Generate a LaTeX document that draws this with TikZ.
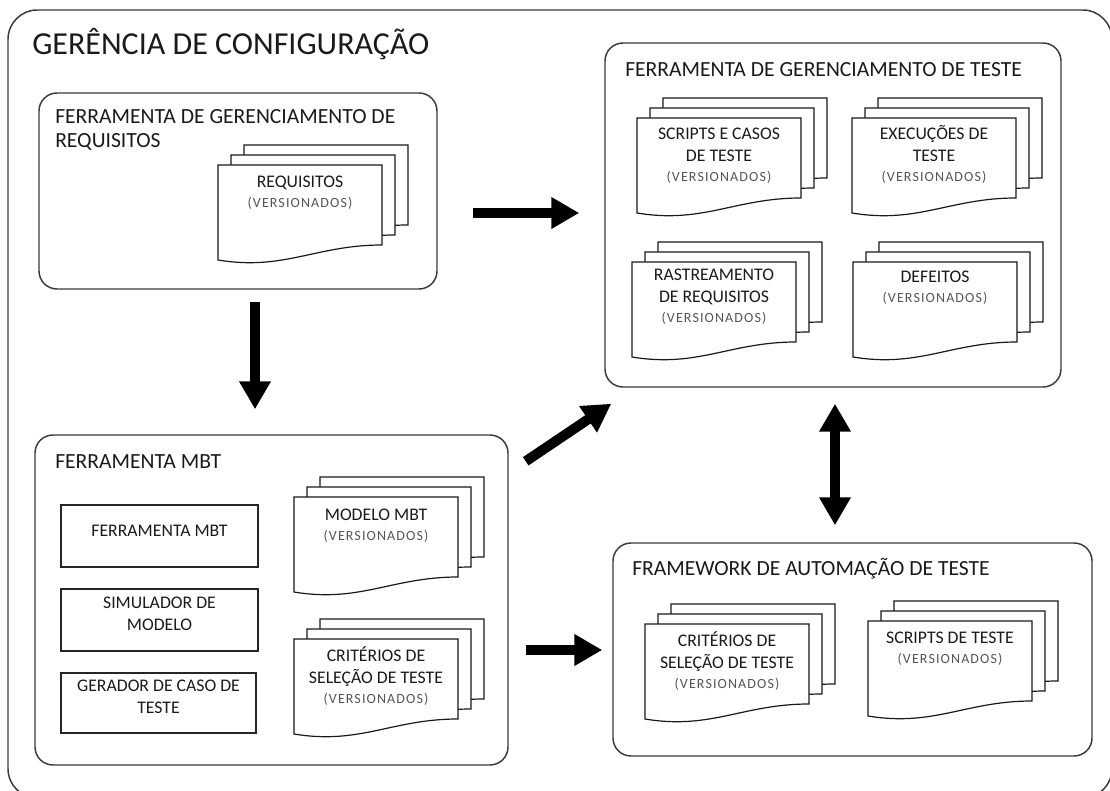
\documentclass[tikz,border=0pt]{standalone}
\usepackage{fontspec}
\setmainfont{Carlito}
\newfontfamily\verfont[LetterSpace=8]{Carlito}
\usetikzlibrary{arrows.meta,calc,fit}

% stack of three pages: name, left, top of the front page, depth of the last line, text
\newcommand{\docstack}[5]{%
\foreach \k in {2,1,0}{
	\pgfmathsetmacro\pgx{#2+13*\k}
	\pgfmathsetmacro\pgy{#3-10*\k}
	\filldraw[page] (\pgx,\pgy) -- ({\pgx+164},\pgy) -- ({\pgx+164},{\pgy+80})
		.. controls ({\pgx+98},{\pgy+80}) and ({\pgx+66},{\pgy+106}) .. (\pgx,{\pgy+95}) -- cycle;
}
\node[doctext] (#1) at ({#2+82},{#3+#4}) {#5};
}
\newcommand{\vers}{\\[-1.5pt]{\verfont\fontsize{10.5}{12}\selectfont\color{vertxt}(VERSIONADOS)}}

\begin{document}
\begin{tikzpicture}[x=0.75pt,y=-0.75pt,
	outerbox/.style={draw=boxline,line width=1.1pt,rounded corners=22pt,inner sep=0pt},
	bigbox/.style={draw=boxline,line width=1.1pt,rounded corners=13.5pt,inner sep=0pt},
	toolbox/.style={draw=black!85,line width=1pt,inner sep=0pt,align=center,
		text=txt,font=\fontsize{13.3}{16.5}\selectfont},
	page/.style={draw=black!90,fill=white,line width=0.9pt},
	doctext/.style={anchor=base,align=center,inner sep=0pt,text=txt,
		font=\fontsize{13.3}{16.5}\selectfont},
	boxtitle/.style={anchor=base west,inner sep=0pt,align=left,text=txt,
		font=\fontsize{16.2}{18}\selectfont},
	bigarrow/.style={-{Triangle[length=21pt,width=22.5pt]},line width=7.5pt},
	twoarrow/.style={{Triangle[length=21pt,width=22.5pt]}-{Triangle[length=21pt,width=22.5pt]},line width=7.5pt}]

\definecolor{boxline}{HTML}{3A3A3A}
\definecolor{txt}{HTML}{1A1A1A}
\definecolor{vertxt}{HTML}{555555}

\useasboundingbox (0,0) rectangle (1110,791);
\clip (0,0) rectangle (1110,791);

\node[outerbox,fit={(8,10) (1112,798)}] (config) {};
\node[anchor=base west,inner sep=0pt,text=txt,font=\fontsize{24}{28}\selectfont]
	(configTitle) at (32,55) {GERÊNCIA DE CONFIGURAÇÃO};

% requisitos
\node[bigbox,fit={(39,93) (437,289)}] (reqTool) {};
\node[boxtitle] (reqTitle) at (55,148) {FERRAMENTA DE GERENCIAMENTO DE\\REQUISITOS};
\docstack{reqDoc}{218}{165}{43}{REQUISITOS\vers}

% gerenciamento de teste
\node[bigbox,fit={(605,43) (1061,387)}] (testTool) {};
\node[boxtitle] (testTitle) at (625,77) {FERRAMENTA DE GERENCIAMENTO DE TESTE};
\docstack{scriptsDoc}{637}{118}{64}{SCRIPTS E CASOS\\DE TESTE\vers}
\docstack{execDoc}{852}{118}{64}{EXECUÇÕES DE\\TESTE\vers}
\docstack{traceDoc}{632}{262}{61}{RASTREAMENTO\\DE REQUISITOS\vers}
\docstack{defectDoc}{853}{262}{41}{DEFEITOS\vers}

% MBT
\node[bigbox,fit={(35,435) (508,765)}] (mbtTool) {};
\node[boxtitle] (mbtTitle) at (55,468) {FERRAMENTA MBT};
\node[toolbox,fit={(61,505) (258,567)}] (mbtApp) {FERRAMENTA MBT};
\node[toolbox,fit={(61,589) (258,651)}] (simulator) {SIMULADOR DE\\MODELO};
\node[toolbox,fit={(61,673) (256,733)}] (generator) {GERADOR DE CASO DE\\TESTE};
\docstack{modelDoc}{294}{497}{43}{MODELO MBT\vers}
\docstack{critDoc}{294}{639}{64}{CRITÉRIOS DE\\SELEÇÃO DE TESTE\vers}

% automacao
\node[bigbox,fit={(613,543) (1092,756)}] (autoTool) {};
\node[boxtitle] (autoTitle) at (632,575) {FRAMEWORK DE AUTOMAÇÃO DE TESTE};
\docstack{critFwDoc}{645}{624}{64}{CRITÉRIOS DE\\SELEÇÃO DE TESTE\vers}
\docstack{scriptFwDoc}{868}{621}{42}{SCRIPTS DE TESTE\vers}

% setas
\draw[bigarrow] ($(reqTool.east)+(35,22)$) -- ($(testTool.west)+(-25,-2)$);
\draw[bigarrow] ($(reqTool.south)+(17,12)$) -- ($(mbtTool.north)+(-16.5,-25)$);
\draw[bigarrow] ($(mbtTool.north east)+(17,27)$) -- ($(testTool.south west)+(7,16)$);
\draw[bigarrow] ($(mbtTool.east)+(17,50)$) -- ($(autoTool.west)+(-10,0.5)$);
\draw[twoarrow] ($(testTool.south)+(2,16)$) -- ($(autoTool.north)+(-17.5,-17)$);

\end{tikzpicture}
\end{document}
